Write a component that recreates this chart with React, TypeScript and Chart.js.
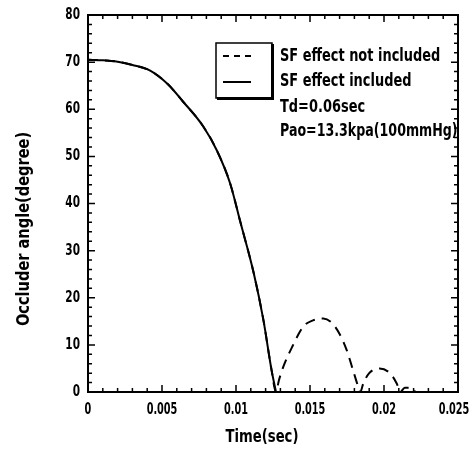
import React, { useEffect, useRef } from "react";
import { Chart, registerables } from "chart.js";

Chart.register(...registerables);

const timeIncluded = [0, 0.001, 0.002, 0.003, 0.0042, 0.0054, 0.0064, 0.0078, 0.0087, 0.0096, 0.0103, 0.0112, 0.01185, 0.0124, 0.0127];
const angleIncluded = [70.5, 70.4, 70.1, 69.4, 68.2, 65.3, 61.7, 56.3, 51.3, 44.3, 36.0, 25.2, 15.3, 4.7, 0];

const timeNotIncluded = [
  ...timeIncluded,
  0.0129, 0.0132, 0.0138, 0.01455, 0.0152, 0.0159, 0.0165, 0.017, 0.01748, 0.0179, 0.01826, 0.0184,
  0.0186, 0.019, 0.0197, 0.0204, 0.02086, 0.0211, 0.0214, 0.0219, 0.0221,
];
const angleNotIncluded = [
  ...angleIncluded,
  2.5, 5.4, 9.6, 13.9, 15.2, 15.6, 14.6, 12.3, 8.9, 4.7, 1.1, 0,
  1.8, 4.0, 5.0, 4.0, 1.8, 0, 0.9, 0.9, 0,
];

const xTicks = [0, 0.005, 0.01, 0.015, 0.02, 0.025];
const yTicks = [0, 10, 20, 30, 40, 50, 60, 70, 80];
const legendLabels = ["SF effect not included", "SF effect included"];
const noteLines = ["Td=0.06sec", "Pao=13.3kpa(100mmHg)"];
const xTitle = "Time(sec)";
const yTitle = "Occluder angle(degree)";

const FONT = "'DejaVu Sans Condensed', 'DejaVu Sans', sans-serif";

function drawText(ctx: any, text: string, x: number, y: number, font: string, sx: number, align: string) {
  ctx.save();
  ctx.font = font;
  ctx.textBaseline = "middle";
  ctx.textAlign = align;
  ctx.translate(x, y);
  ctx.scale(sx, 1);
  ctx.fillText(text, 0, 0);
  ctx.restore();
}

const fmtX = (v: number) => String(+v.toFixed(3));

const decorPlugin = {
  id: "decor",
  afterDraw(chart: any) {
    const { ctx, chartArea: a, scales } = chart;
    const xs = scales.x;
    const ys = scales.y;
    ctx.save();
    ctx.strokeStyle = "#000";
    ctx.fillStyle = "#000";
    // frame
    ctx.lineWidth = 2;
    ctx.strokeRect(a.left, a.top, a.right - a.left, a.bottom - a.top);
    // inward ticks
    ctx.lineWidth = 1.5;
    for (let i = 0; i <= 25; i++) {
      const v = i * 0.001;
      const px = xs.getPixelForValue(v);
      const len = i % 5 === 0 ? 7 : 4;
      ctx.beginPath();
      ctx.moveTo(px, a.bottom);
      ctx.lineTo(px, a.bottom - len);
      ctx.moveTo(px, a.top);
      ctx.lineTo(px, a.top + len);
      ctx.stroke();
    }
    for (let i = 0; i <= 40; i++) {
      const v = i * 2;
      const py = ys.getPixelForValue(v);
      const len = i % 5 === 0 ? 7 : 4;
      ctx.beginPath();
      ctx.moveTo(a.left, py);
      ctx.lineTo(a.left + len, py);
      ctx.moveTo(a.right, py);
      ctx.lineTo(a.right - len, py);
      ctx.stroke();
    }
    // tick labels
    const tickFont = `bold 15px ${FONT}`;
    xTicks.forEach((v) => {
      const px = Math.min(xs.getPixelForValue(v), a.right - 4);
      drawText(ctx, fmtX(v), px, a.bottom + 18, tickFont, 0.72, "center");
    });
    yTicks.forEach((v) => {
      drawText(ctx, String(v), a.left - 8, ys.getPixelForValue(v), tickFont, 0.78, "right");
    });
    // axis titles
    drawText(ctx, xTitle, a.left + 174, 437, `bold 18px ${FONT}`, 0.815, "center");
    ctx.save();
    ctx.translate(24, 229);
    ctx.rotate(-Math.PI / 2);
    drawText(ctx, yTitle, 0, 0, `bold 18px ${FONT}`, 0.9, "center");
    ctx.restore();
    // legend box
    const bx = a.left + 128;
    const by = a.top + 28;
    const bw = 56;
    const bh = 55;
    ctx.lineWidth = 1.5;
    ctx.strokeRect(bx, by, bw, bh);
    ctx.lineWidth = 3;
    ctx.beginPath();
    ctx.moveTo(bx + 1, by + bh + 0.5);
    ctx.lineTo(bx + bw + 0.5, by + bh + 0.5);
    ctx.lineTo(bx + bw + 0.5, by + 1);
    ctx.stroke();
    ctx.lineWidth = 2;
    ctx.setLineDash([6, 5]);
    ctx.beginPath();
    ctx.moveTo(bx + 7, by + 13);
    ctx.lineTo(bx + 35, by + 13);
    ctx.stroke();
    ctx.setLineDash([]);
    ctx.beginPath();
    ctx.moveTo(bx + 7, by + 39);
    ctx.lineTo(bx + 35, by + 39);
    ctx.stroke();
    const lf = `bold 18px ${FONT}`;
    drawText(ctx, legendLabels[0], bx + 64, by + 13, lf, 0.8, "left");
    drawText(ctx, legendLabels[1], bx + 64, by + 38, lf, 0.8, "left");
    drawText(ctx, noteLines[0], bx + 64, by + 64, lf, 0.8, "left");
    drawText(ctx, noteLines[1], bx + 64, by + 88, lf, 0.78, "left");
    ctx.restore();
  },
};

export default function App() {
  const ref = useRef<HTMLCanvasElement>(null);
  useEffect(() => {
    if (!ref.current) return;
    const chart = new Chart(ref.current, {
      type: "line",
      data: {
        datasets: [
          {
            label: legendLabels[0],
            data: timeNotIncluded.map((t, i) => ({ x: t, y: angleNotIncluded[i] })),
            borderColor: "#000",
            borderWidth: 2,
            borderDash: [10, 7],
            pointRadius: 0,
            cubicInterpolationMode: "monotone",
            fill: false,
          },
          {
            label: legendLabels[1],
            data: timeIncluded.map((t, i) => ({ x: t, y: angleIncluded[i] })),
            borderColor: "#000",
            borderWidth: 2,
            pointRadius: 0,
            cubicInterpolationMode: "monotone",
            fill: false,
          },
        ],
      },
      options: {
        responsive: false,
        maintainAspectRatio: false,
        animation: false,
        layout: { padding: { left: 0, right: 18, top: 15, bottom: 0 } },
        plugins: { legend: { display: false }, tooltip: { enabled: false } },
        scales: {
          x: {
            type: "linear",
            min: 0,
            max: 0.025,
            ticks: { display: false },
            grid: { display: false, drawTicks: false },
            border: { display: false },
            afterFit: (s: any) => {
              s.height = 57;
            },
          },
          y: {
            type: "linear",
            min: 0,
            max: 80,
            ticks: { display: false },
            grid: { display: false, drawTicks: false },
            border: { display: false },
            afterFit: (s: any) => {
              s.width = 88;
            },
          },
        },
      },
      plugins: [decorPlugin],
    } as any);
    return () => chart.destroy();
  }, []);
  return (
    <div style={{ position: "fixed", left: 0, top: 0, width: 476, height: 449, background: "#fff" }}>
      <canvas ref={ref} width={476} height={449} style={{ display: "block" }} />
    </div>
  );
}
